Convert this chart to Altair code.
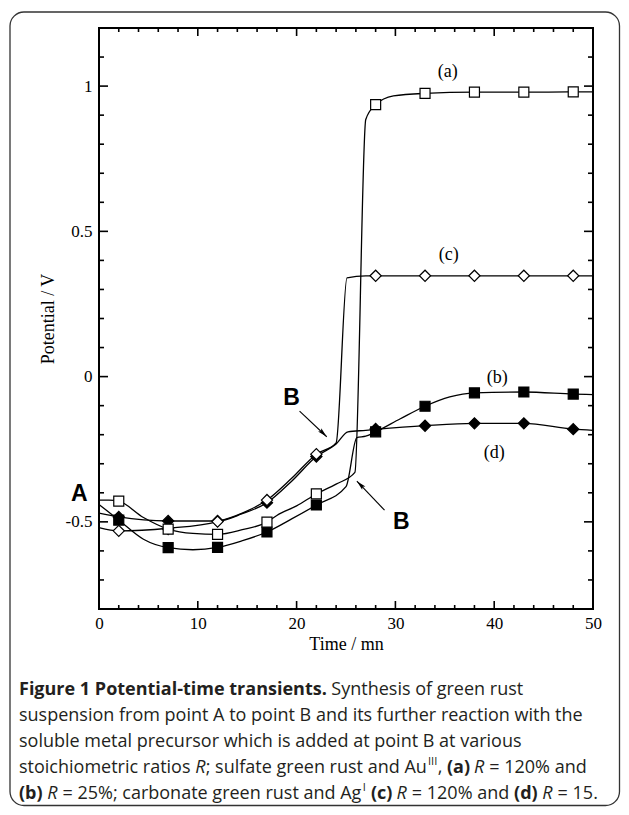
import altair as alt
import pandas as pd

# ---------------- data ----------------
t_a = [0, 1, 2, 4.5, 7, 9.5, 12, 14.5, 17, 18, 20, 22, 24, 25.9, 27.0, 28, 29.8, 33, 38, 43, 48, 50]
v_a = [-0.425, -0.425, -0.429, -0.485, -0.525, -0.540, -0.543, -0.527, -0.501, -0.478, -0.445, -0.404,
       -0.37, -0.33, 0.885, 0.936, 0.966, 0.975, 0.979, 0.979, 0.980, 0.980]
t_b = [0, 2, 4.5, 7, 9.5, 12, 14.5, 17, 19.5, 22, 25, 26.1, 27, 28, 30.5, 33, 35.5, 38, 43, 48, 50]
v_b = [-0.44, -0.494, -0.56, -0.589, -0.596, -0.588, -0.565, -0.535, -0.49, -0.442, -0.379, -0.21,
       -0.205, -0.19, -0.145, -0.102, -0.07, -0.056, -0.053, -0.060, -0.062]
t_c = [0, 2, 7, 12, 14.5, 17, 19.5, 22, 24, 25.1, 27, 28, 33, 38, 43, 48, 50]
v_c = [-0.52, -0.531, -0.522, -0.499, -0.47, -0.425, -0.35, -0.267, -0.228, 0.34, 0.347, 0.347,
       0.347, 0.347, 0.347, 0.347, 0.347]
t_d = [0, 2, 7, 12, 14.5, 17, 19.5, 22, 24, 25.2, 27, 28, 33, 38, 43, 48, 50]
v_d = [-0.47, -0.483, -0.497, -0.497, -0.472, -0.434, -0.36, -0.275, -0.232, -0.19, -0.185, -0.182,
       -0.169, -0.161, -0.161, -0.181, -0.185]

mk_t = [2, 7, 12, 17, 22, 28, 33, 38, 43, 48]
mk_a = [-0.429, -0.525, -0.543, -0.501, -0.404, 0.936, 0.975, 0.979, 0.979, 0.980]
mk_b = [-0.494, -0.589, -0.588, -0.535, -0.442, -0.19, -0.102, -0.056, -0.053, -0.060]
mk_c = [-0.531, -0.525, -0.499, -0.425, -0.267, 0.347, 0.347, 0.347, 0.347, 0.347]
mk_d = [-0.483, -0.497, -0.497, -0.434, -0.275, -0.18, -0.169, -0.161, -0.161, -0.181]

curve_names = ["(a)", "(b)", "(c)", "(d)"]
curve_label_t = [35.3, 40.3, 35.4, 40.0]
curve_label_v = [1.05, -0.005, 0.418, -0.264]

point_names = ["A", "B", "B"]
point_t = [-2.0, 19.5, 30.6]
point_v = [-0.405, -0.072, -0.50]

arrow_id = [1, 1, 2, 2]
arrow_t = [20.3, 23.05, 28.9, 26.1]
arrow_v = [-0.119, -0.207, -0.46, -0.36]

x_tick_values = list(range(0, 51, 2))
y_tick_values = [round(-0.8 + 0.1 * i, 1) for i in range(21)]
x_label_values = [0, 10, 20, 30, 40, 50]
y_label_values = [-0.5, 0, 0.5, 1]

caption_lines = [
    [("Figure 1 Potential-time transients.", "b"), (" Synthesis of green rust", "r")],
    [("suspension from point A to point B and its further reaction with the", "r")],
    [("soluble metal precursor which is added at point B at various", "r")],
    [("stoichiometric ratios ", "r"), ("R", "i"), ("; sulfate green rust and Au", "r"), ("III", "s"),
     (", ", "r"), ("(a)", "b"), (" ", "r"), ("R", "i"), (" = 120% and", "r")],
    [("(b)", "b"), (" ", "r"), ("R", "i"), (" = 25%; carbonate green rust and Ag", "r"), ("I", "s"),
     (" ", "r"), ("(c)", "b"), (" ", "r"), ("R", "i"), (" = 120% and ", "r"), ("(d)", "b"), (" ", "r"),
     ("R", "i"), (" = 15.", "r")],
]

# ---------------- layout ----------------
W, H = 494, 581
PL, PT = 91, 20          # plot origin on the page = (8+PL, 8+PT) = (99, 28)
OX, OY = 8 + PL, 8 + PT

SERIF = "Liberation Serif"
SANS = "Liberation Sans"
CAP_FONT = "Open Sans"
CAP_SIZE = 18

xs = alt.Scale(domain=[0, 50], nice=False, zero=False)
ys = alt.Scale(domain=[-0.8, 1.2], nice=False, zero=False)

x_axis = alt.Axis(values=x_label_values, title="Time / mn", ticks=False, domain=False, grid=False,
                  labelFont=SERIF, labelFontSize=17, labelColor="black", labelPadding=6,
                  labelFlush=False, titleFont=SERIF, titleFontSize=18, titleFontWeight="normal",
                  titleColor="black", titlePadding=4)
y_axis = alt.Axis(values=y_label_values, title="Potential / V", ticks=False, domain=False, grid=False,
                  labelExpr="datum.value < 0 ? '-' + format(-datum.value, '') : format(datum.value, '')",
                  labelFont=SERIF, labelFontSize=17, labelColor="black", labelPadding=7,
                  labelFlush=False, titleFont=SERIF, titleFontSize=18, titleFontWeight="normal",
                  titleColor="black", titlePadding=8)


def X(field="t"):
    return alt.X(f"{field}:Q", scale=xs, axis=x_axis)


def Y(field="v"):
    return alt.Y(f"{field}:Q", scale=ys, axis=y_axis)


one = pd.DataFrame({"k": [0]})

# curves
rows = []
for name, ts, vs in zip(curve_names, [t_a, t_b, t_c, t_d], [v_a, v_b, v_c, v_d]):
    for t, v in zip(ts, vs):
        rows.append({"series": name, "t": t, "v": v})
df_lines = pd.DataFrame(rows)

lines = alt.Chart(df_lines).mark_line(interpolate="monotone", color="black", strokeWidth=1.3).encode(
    x=X(), y=Y(), detail="series:N")


def markers(vals, shape, filled):
    df = pd.DataFrame({"t": mk_t, "v": vals})
    size = 100 if shape == "square" else 125
    return alt.Chart(df).mark_point(shape=shape, size=size, filled=True,
                                    fill="black" if filled else "white",
                                    stroke="black", strokeWidth=1.2, opacity=1).encode(x=X(), y=Y())


m_d = markers(mk_d, "diamond", True)
m_b = markers(mk_b, "square", True)
m_c = markers(mk_c, "diamond", False)
m_a = markers(mk_a, "square", False)

# ticks (inward, on all four sides)
df_xt = pd.DataFrame({"t": x_tick_values, "major": [t % 10 == 0 for t in x_tick_values]})
df_yt = pd.DataFrame({"v": y_tick_values,
                      "major": [abs(v * 2 - round(v * 2)) < 1e-6 for v in y_tick_values]})


def xticks(major, top):
    L = 8 if major else 4
    y0, y1 = (0, L) if top else (H, H - L)
    return alt.Chart(df_xt).transform_filter(
        "datum.major" if major else "!datum.major").mark_rule(color="black", strokeWidth=1.6).encode(
        x=X(), y=alt.value(y0), y2=alt.value(y1))


def yticks(major, right):
    L = 9 if major else 5
    x0, x1 = (W, W - L) if right else (0, L)
    return alt.Chart(df_yt).transform_filter(
        "datum.major" if major else "!datum.major").mark_rule(color="black", strokeWidth=1.6).encode(
        y=Y(), x=alt.value(x0), x2=alt.value(x1))


tick_layers = [xticks(m, tp) for m in (True, False) for tp in (True, False)] + \
              [yticks(m, r) for m in (True, False) for r in (True, False)]

frame = alt.Chart(one).mark_rect(fillOpacity=0, stroke="black", strokeWidth=2).encode(
    x=alt.value(0), x2=alt.value(W), y=alt.value(0), y2=alt.value(H))

box = alt.Chart(one).mark_rect(fillOpacity=0, stroke="#333333", strokeWidth=1.3, cornerRadius=14).encode(
    x=alt.value(10 - OX), x2=alt.value(619.5 - OX), y=alt.value(12 - OY), y2=alt.value(805.5 - OY))

# labels
df_cl = pd.DataFrame({"t": curve_label_t, "v": curve_label_v, "label": curve_names})
curve_labels = alt.Chart(df_cl).mark_text(font=SERIF, fontSize=18, color="black").encode(
    x=X(), y=Y(), text="label:N")

df_pl = pd.DataFrame({"t": point_t, "v": point_v, "label": point_names})
point_labels = alt.Chart(df_pl).mark_text(font=SANS, fontSize=23, fontWeight="bold", color="black").encode(
    x=X(), y=Y(), text="label:N")

df_ar = pd.DataFrame({"id": arrow_id, "t": arrow_t, "v": arrow_v})
arrow_lines = alt.Chart(df_ar).mark_line(color="black", strokeWidth=1.1).encode(
    x=X(), y=Y(), detail="id:N")
HEAD = "M0,0 L-0.38,1.6 L0,1.3 L0.38,1.6 Z"
head1 = alt.Chart(df_ar).transform_filter("datum.id == 1").transform_window(
    r="row_number()").transform_filter("datum.r == 2").mark_point(
    shape=HEAD, size=150, filled=True, color="black", angle=134, opacity=1).encode(x=X(), y=Y())
head2 = alt.Chart(df_ar).transform_filter("datum.id == 2").transform_window(
    r="row_number()").transform_filter("datum.r == 2").mark_point(
    shape=HEAD, size=150, filled=True, color="black", angle=315, opacity=1).encode(x=X(), y=Y())

# caption (rich text built from segments)
OS = {' ': .26, '!': .267, '%': .834, '(': .296, ')': .296, ',': .245, '-': .322, '.': .266, '/': .372,
      ';': .266, '=': .572, 'A': .633, 'B': .648, 'C': .631, 'D': .729, 'E': .556, 'F': .516, 'G': .728,
      'H': .738, 'I': .279, 'P': .602, 'R': .618, 'S': .549, 'T': .553, 'g': .548,
      'a': .556, 'b': .613, 'c': .476, 'd': .613, 'e': .561, 'f': .339, 'h': .614, 'i': .253, 'j': .253,
      'k': .525, 'l': .253, 'm': .93, 'n': .614, 'o': .604, 'p': .613, 'q': .613, 'r': .408, 's': .477,
      't': .353, 'u': .614, 'v': .501, 'w': .778, 'x': .524, 'y': .502, 'z': .468}


def text_w(s, size, style):
    w = sum(OS.get(c, .572) for c in s) * size
    return w * (1.085 if style == "b" else 0.95 if style == "i" else 1.0)


caption_layers = []
line_y = [690, 716, 742, 768, 794]
for ly, segs in zip(line_y, caption_lines):
    x = 19.0
    for s, st in segs:
        size = CAP_SIZE * 0.62 if st == "s" else CAP_SIZE
        txt = s.strip()
        lead = len(s) - len(s.lstrip())
        x_start = x + text_w(s[:lead], size, st) + (1 if st == "s" else 0)
        if txt:
            caption_layers.append(alt.Chart(one).mark_text(
                font=CAP_FONT, fontSize=size, align="left", baseline="middle", color="#231f20",
                fontWeight="bold" if st == "b" else "normal",
                fontStyle="italic" if st == "i" else "normal").encode(
                x=alt.value(x_start - OX), y=alt.value(ly - OY - (6 if st == "s" else 0)),
                text=alt.value(txt)))
        x += text_w(s, size, st) + (1.5 if st == "s" else 0)

chart = alt.layer(
    box, lines, *tick_layers, frame, m_d, m_b, m_c, m_a, curve_labels, point_labels,
    arrow_lines, head1, head2, *caption_layers
).properties(
    width=W, height=H,
    padding={"left": PL, "top": PT, "right": 629 - 16 - PL - W, "bottom": 815 - 16 - PT - H},
    autosize=alt.AutoSizeParams(type="none"),
).configure_view(stroke=None).configure(background="white")

chart.save("out.html", embed_options={"renderer": "svg", "actions": False})
